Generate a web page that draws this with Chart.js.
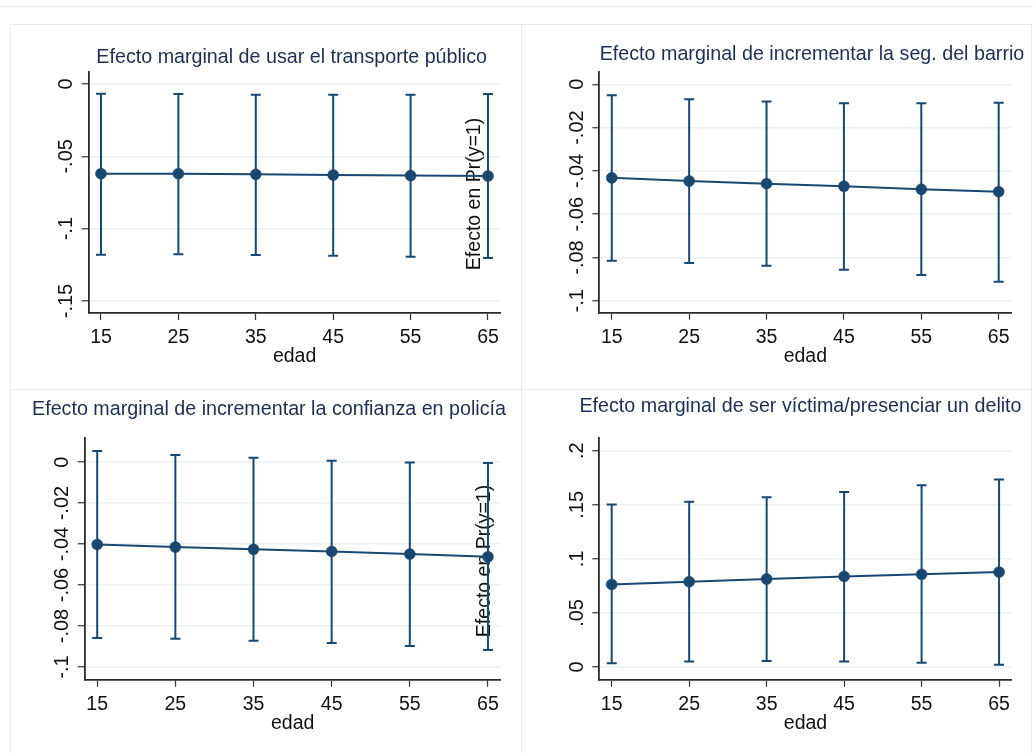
<!DOCTYPE html>
<html>
<head>
<meta charset="utf-8">
<script src="https://cdn.jsdelivr.net/npm/chart.js@4.4.1/dist/chart.umd.min.js"></script>
<style>
  body { margin: 0; background: #fff; width: 1033px; height: 753px; overflow: hidden; position: relative; }
  .rule { position: absolute; background: #e4edef; }
  canvas { position: absolute; }
</style>
</head>
<body>
<div class="rule" style="left:0;top:6px;width:1033px;height:1px"></div>
<div class="rule" style="left:10px;top:24px;width:1021px;height:1px"></div>
<div class="rule" style="left:10px;top:24px;width:1px;height:729px"></div>
<div class="rule" style="left:521px;top:24px;width:1px;height:729px"></div>
<div class="rule" style="left:1031px;top:24px;width:1px;height:729px"></div>
<div class="rule" style="left:10px;top:389px;width:1021px;height:1px"></div>

<canvas id="c1" width="511" height="365" style="left:10px;top:24px"></canvas>
<canvas id="c2" width="509" height="365" style="left:522px;top:24px"></canvas>
<canvas id="c3" width="511" height="363" style="left:10px;top:390px"></canvas>
<canvas id="c4" width="509" height="363" style="left:522px;top:390px"></canvas>

<script>
// === data ===
const edad = [15, 25, 35, 45, 55, 65];

// transporte publico
const transB  = [-0.0620, -0.0620, -0.0624, -0.0629, -0.0633, -0.0636];
const transHi = [-0.0067, -0.0069, -0.0074, -0.0074, -0.0074, -0.0069];
const transLo = [-0.1180, -0.1177, -0.1182, -0.1187, -0.1194, -0.1203];
const transTicks  = [0, -0.05, -0.1, -0.15];
const transLabels = ['0', '-.05', '-.1', '-.15'];

// seguridad del barrio
const segB  = [-0.0432, -0.0447, -0.0459, -0.0471, -0.0485, -0.0496];
const segHi = [-0.0051, -0.0069, -0.0080, -0.0088, -0.0088, -0.0085];
const segLo = [-0.0815, -0.0826, -0.0838, -0.0857, -0.0881, -0.0912];
const segTicks  = [0, -0.02, -0.04, -0.06, -0.08, -0.1];
const segLabels = ['0', '-.02', '-.04', '-.06', '-.08', '-.1'];

// confianza en policia
const polB  = [-0.0402, -0.0415, -0.0426, -0.0436, -0.0449, -0.0462];
const polHi = [0.0054, 0.0034, 0.0021, 0.0007, -0.0002, -0.0005];
const polLo = [-0.0859, -0.0862, -0.0872, -0.0883, -0.0897, -0.0917];
const polTicks  = [0, -0.02, -0.04, -0.06, -0.08, -0.1];
const polLabels = ['0', '-.02', '-.04', '-.06', '-.08', '-.1'];

// victima / presenciar delito
const vicB  = [0.0764, 0.0789, 0.0814, 0.0838, 0.0857, 0.0878];
const vicHi = [0.1504, 0.1529, 0.1569, 0.1618, 0.1680, 0.1735];
const vicLo = [0.0034, 0.0052, 0.0055, 0.0052, 0.0040, 0.0022];
const vicTicks  = [0, 0.05, 0.1, 0.15, 0.2];
const vicLabels = ['0', '.05', '.1', '.15', '.2'];

const yTitle = 'Efecto en Pr(y=1)';
const navy = '#1a476f';
const FONT = '"Liberation Sans", Arial, sans-serif';
const TICK = 7;

// page coordinates: box = canvas [x, y, w, h], area = plot [l, t, r, b]
const panels = {
  c1: { title: 'Efecto marginal de usar el transporte público', b: transB, lo: transLo, hi: transHi,
        ticks: transTicks, labels: transLabels, ymin: -0.1583, ymax: 0.0083,
        box: [10, 24, 511, 365], area: [88.6, 72, 500.6, 313], titleAt: [291.7, 63], stray: [480, 194] },
  c2: { title: 'Efecto marginal de incrementar la seg. del barrio', b: segB, lo: segLo, hi: segHi,
        ticks: segTicks, labels: segLabels, ymin: -0.1055, ymax: 0.0058,
        box: [522, 24, 509, 365], area: [599.4, 71.7, 1011.3, 312.7], titleAt: [812, 60] },
  c3: { title: 'Efecto marginal de incrementar la confianza en policía', b: polB, lo: polLo, hi: polHi,
        ticks: polTicks, labels: polLabels, ymin: -0.1062, ymax: 0.0116,
        box: [10, 390, 511, 363], area: [84.7, 438.3, 500.7, 679.7], titleAt: [269, 415], stray: [490, 561] },
  c4: { title: 'Efecto marginal de ser víctima/presenciar un delito', b: vicB, lo: vicLo, hi: vicHi,
        ticks: vicTicks, labels: vicLabels, ymin: -0.0117, ymax: 0.2115,
        box: [522, 390, 509, 363], area: [599.3, 438.3, 1011.7, 679.7], titleAt: [800.5, 411.7] }
};

const stataPanel = {
  id: 'stataPanel',
  beforeDatasetsDraw(chart) {
    const P = panels[chart.canvas.id];
    const ctx = chart.ctx, xs = chart.scales.x, ys = chart.scales.y;
    const ox = P.box[0], oy = P.box[1];

    if (P.stray) {
      ctx.save();
      ctx.font = '19.5px ' + FONT;
      ctx.fillStyle = '#111';
      ctx.textAlign = 'center';
      ctx.textBaseline = 'alphabetic';
      ctx.translate(P.stray[0] - ox, P.stray[1] - oy);
      ctx.rotate(-Math.PI / 2);
      ctx.fillText(yTitle, 0, 0);
      ctx.restore();
    }

    // rcap error bars
    ctx.save();
    ctx.strokeStyle = navy;
    ctx.lineWidth = 2;
    P.lo.forEach((lo, i) => {
      const px = xs.getPixelForValue(edad[i]);
      const p1 = ys.getPixelForValue(lo), p2 = ys.getPixelForValue(P.hi[i]);
      ctx.beginPath();
      ctx.moveTo(px, p1); ctx.lineTo(px, p2);
      ctx.moveTo(px - 5, p1); ctx.lineTo(px + 5, p1);
      ctx.moveTo(px - 5, p2); ctx.lineTo(px + 5, p2);
      ctx.stroke();
    });
    ctx.restore();
  },
  afterDraw(chart) {
    const P = panels[chart.canvas.id];
    const ctx = chart.ctx, xs = chart.scales.x, ys = chart.scales.y, a = chart.chartArea;
    const ox = P.box[0], oy = P.box[1];
    ctx.save();
    ctx.textBaseline = 'alphabetic';

    // title
    ctx.font = '19.7px ' + FONT;
    ctx.fillStyle = '#1c2e52';
    ctx.textAlign = 'center';
    ctx.fillText(P.title, P.titleAt[0] - ox, P.titleAt[1] - oy);

    // x tick labels + title
    ctx.fillStyle = '#111';
    ctx.font = '19.5px ' + FONT;
    edad.forEach(v => ctx.fillText(String(v), xs.getPixelForValue(v), a.bottom + 30));
    ctx.fillText('edad', (a.left + a.right) / 2, a.bottom + 49);

    // y tick labels, rotated
    ctx.font = '20px ' + FONT;
    P.ticks.forEach((v, i) => {
      ctx.save();
      ctx.translate(a.left - 16.5, ys.getPixelForValue(v));
      ctx.rotate(-Math.PI / 2);
      ctx.fillText(P.labels[i], 0, 0);
      ctx.restore();
    });
    ctx.restore();
  }
};

function makeChart(id) {
  const P = panels[id];
  const [bx, by, bw, bh] = P.box;
  const [l, t, r, b] = P.area;
  return new Chart(document.getElementById(id), {
    type: 'line',
    data: {
      datasets: [{
        data: edad.map((x, i) => ({ x: x, y: P.b[i] })),
        borderColor: navy,
        backgroundColor: navy,
        borderWidth: 2,
        pointRadius: 5.5,
        pointBorderWidth: 0.5,
        pointBorderColor: navy,
        pointBackgroundColor: navy,
        tension: 0,
        fill: false
      }]
    },
    options: {
      responsive: false,
      animation: false,
      layout: { padding: { left: l - bx - TICK, top: t - by, right: bx + bw - r, bottom: by + bh - b - TICK } },
      plugins: { legend: { display: false }, tooltip: { enabled: false } },
      scales: {
        x: {
          type: 'linear', min: 13.4, max: 66.63,
          afterBuildTicks: s => { s.ticks = edad.map(v => ({ value: v })); },
          ticks: { display: false },
          grid: { color: 'rgba(0,0,0,0)', tickColor: '#333', tickLength: TICK, tickWidth: 1.2 },
          border: { display: true, color: '#2a2a2a', width: 1.8 }
        },
        y: {
          type: 'linear', min: P.ymin, max: P.ymax,
          afterBuildTicks: s => { s.ticks = P.ticks.map(v => ({ value: v })); },
          ticks: { display: false },
          grid: { color: '#eaf2f3', lineWidth: 1.5, tickColor: '#333', tickLength: TICK, tickWidth: 1.2 },
          border: { display: true, color: '#2a2a2a', width: 1.8 }
        }
      }
    },
    plugins: [stataPanel]
  });
}

['c1', 'c2', 'c3', 'c4'].forEach(makeChart);
</script>
</body>
</html>
